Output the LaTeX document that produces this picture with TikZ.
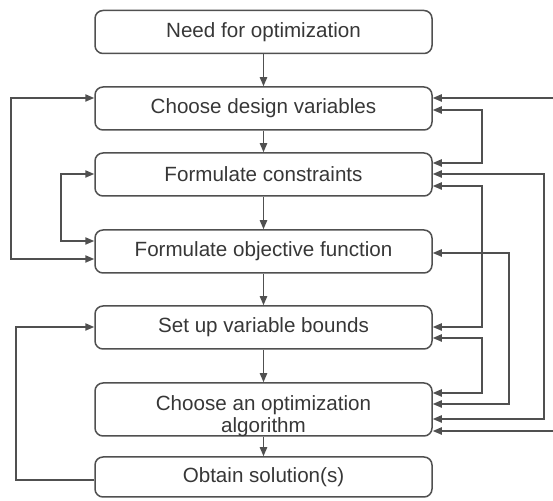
\documentclass[tikz,border=0pt]{standalone}
\usepackage{fontspec}
\setmainfont{Liberation Sans}
\usepackage{xcolor}
\usetikzlibrary{arrows.meta}
\definecolor{linegray}{RGB}{80,80,80}
\definecolor{textgray}{RGB}{55,55,55}

\begin{document}
\begin{tikzpicture}[x=0.5pt,y=-0.5pt,
	box/.style={draw=linegray,line width=0.75pt,rounded corners=4pt,
		minimum width=168.5pt,minimum height=21.5pt,align=center,
		text=textgray,font=\fontsize{10.3}{11}\selectfont},
	link/.style={draw=linegray,line width=0.8pt},
	tip/.tip={Triangle[length=4.5pt,width=3.6pt]}]
	\clip (0,0) rectangle (553,501);
	\node[box] (N) at (263.5,32) {Need for optimization};
	\node[box] (V) at (263.5,108.5) {Choose design variables};
	\node[box] (C) at (263.5,174.5) {Formulate constraints};
	\node[box] (F) at (263.5,251.5) {Formulate objective function};
	\node[box] (B) at (263.5,327.5) {Set up variable bounds};
	\node[box,minimum height=26.5pt,
		label={[text=textgray,align=center,font=\fontsize{10.3}{11}\selectfont,yshift=-3.5pt]center:{Choose an optimization\\algorithm}}] (A) at (263.5,409.5) {};
	\node[box,minimum height=20pt] (S) at (263.5,477) {Obtain solution(s)};
	\foreach \a/\b in {N/V,V/C,C/F,F/B,B/A,A/S}
		\draw[link,-tip] (\a) -- (\b);
	\draw[link,tip-tip] (V.west |- 0,98) -- ++(-83,0) |- (F.west |- 0,259);
	\draw[link,tip-tip] (C.west |- 0,174) -- ++(-33,0) |- (F.west |- 0,241);
	\draw[link,-tip] (S.west |- 0,480) -- ++(-78,0) |- (B.west |- 0,327);
	\draw[link,tip-tip] (V.east |- 0,110) -- ++(49,0) |- (C.east |- 0,163);
	\draw[link,tip-tip] (C.east |- 0,186) -- ++(49,0) |- (B.east |- 0,327);
	\draw[link,tip-tip] (B.east |- 0,338) -- ++(49,0) |- (A.east |- 0,393);
	\draw[link,tip-tip] (F.east |- 0,253) -- ++(76,0) |- (A.east |- 0,404);
	\draw[link,tip-tip] (C.east |- 0,174) -- ++(111,0) |- (A.east |- 0,419);
	\draw[link,tip-tip] (V.east |- 0,98) -- ++(128,0) |- (A.east |- 0,431);
\end{tikzpicture}
\end{document}
